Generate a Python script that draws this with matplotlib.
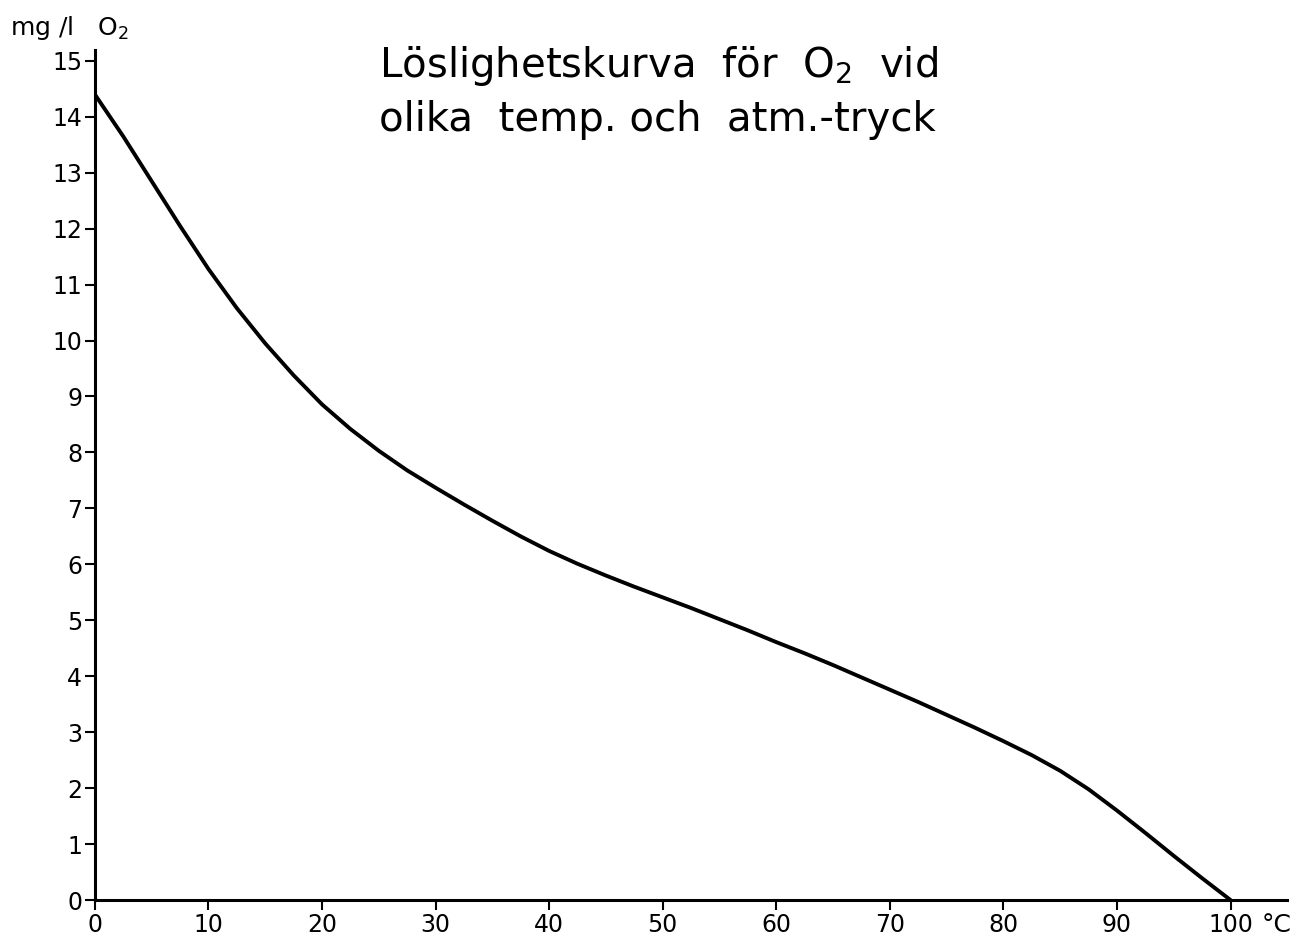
import matplotlib
matplotlib.use("Agg")
import matplotlib.pyplot as plt

# temperature (deg C) and O2 solubility (mg/l)
temp = [0, 2.5, 5, 7.5, 10, 12.5, 15, 17.5, 20, 22.5, 25, 27.5, 30,
        32.5, 35, 37.5, 40, 42.5, 45, 47.5, 50, 52.5, 55, 57.5, 60,
        62.5, 65, 67.5, 70, 72.5, 75, 77.5, 80, 82.5, 85, 87.5, 90,
        92.5, 95, 97.5, 100]
o2 = [14.4, 13.65, 12.85, 12.05, 11.28, 10.58, 9.95, 9.38, 8.86, 8.42,
      8.03, 7.68, 7.37, 7.07, 6.78, 6.5, 6.24, 6.01, 5.8, 5.6, 5.41,
      5.22, 5.02, 4.82, 4.61, 4.41, 4.2, 3.98, 3.76, 3.54, 3.31, 3.08,
      2.84, 2.59, 2.31, 1.98, 1.6, 1.2, 0.79, 0.39, 0.0]

xticks = [0, 10, 20, 30, 40, 50, 60, 70, 80, 90, 100]
yticks = list(range(0, 16))

plt.rcParams['font.family'] = ['DejaVu Sans']

fig = plt.figure(figsize=(12.99, 9.47), dpi=100)
ax = fig.add_axes([0.073, 0.0496, 0.918, 0.898])

ax.plot(temp, o2, color='black', lw=2.8, solid_capstyle='round',
        solid_joinstyle='round')

ax.set_xlim(0, 105)
ax.set_ylim(0, 15.2)
ax.set_xticks(xticks)
ax.set_yticks(yticks)
ax.tick_params(axis='both', direction='out', length=7, width=1.5,
               labelsize=17, pad=2)

for side in ['top', 'right']:
    ax.spines[side].set_visible(False)
for side in ['left', 'bottom']:
    ax.spines[side].set_linewidth(2.2)

fig.text(10 / 1299, 1 - 35 / 947, 'mg /l   O$_2$', fontsize=18,
         ha='left', va='baseline')
fig.text(1262 / 1299, 1 - 932 / 947, '°C', fontsize=18,
         ha='left', va='baseline')

fig.text(379 / 1299, 1 - 77 / 947, 'Löslighetskurva  för  O$_2$  vid',
         fontsize=29, ha='left', va='baseline')
fig.text(379 / 1299, 1 - 131 / 947, 'olika  temp. och  atm.-tryck',
         fontsize=29, ha='left', va='baseline')

fig.savefig('out.png', dpi=100)
